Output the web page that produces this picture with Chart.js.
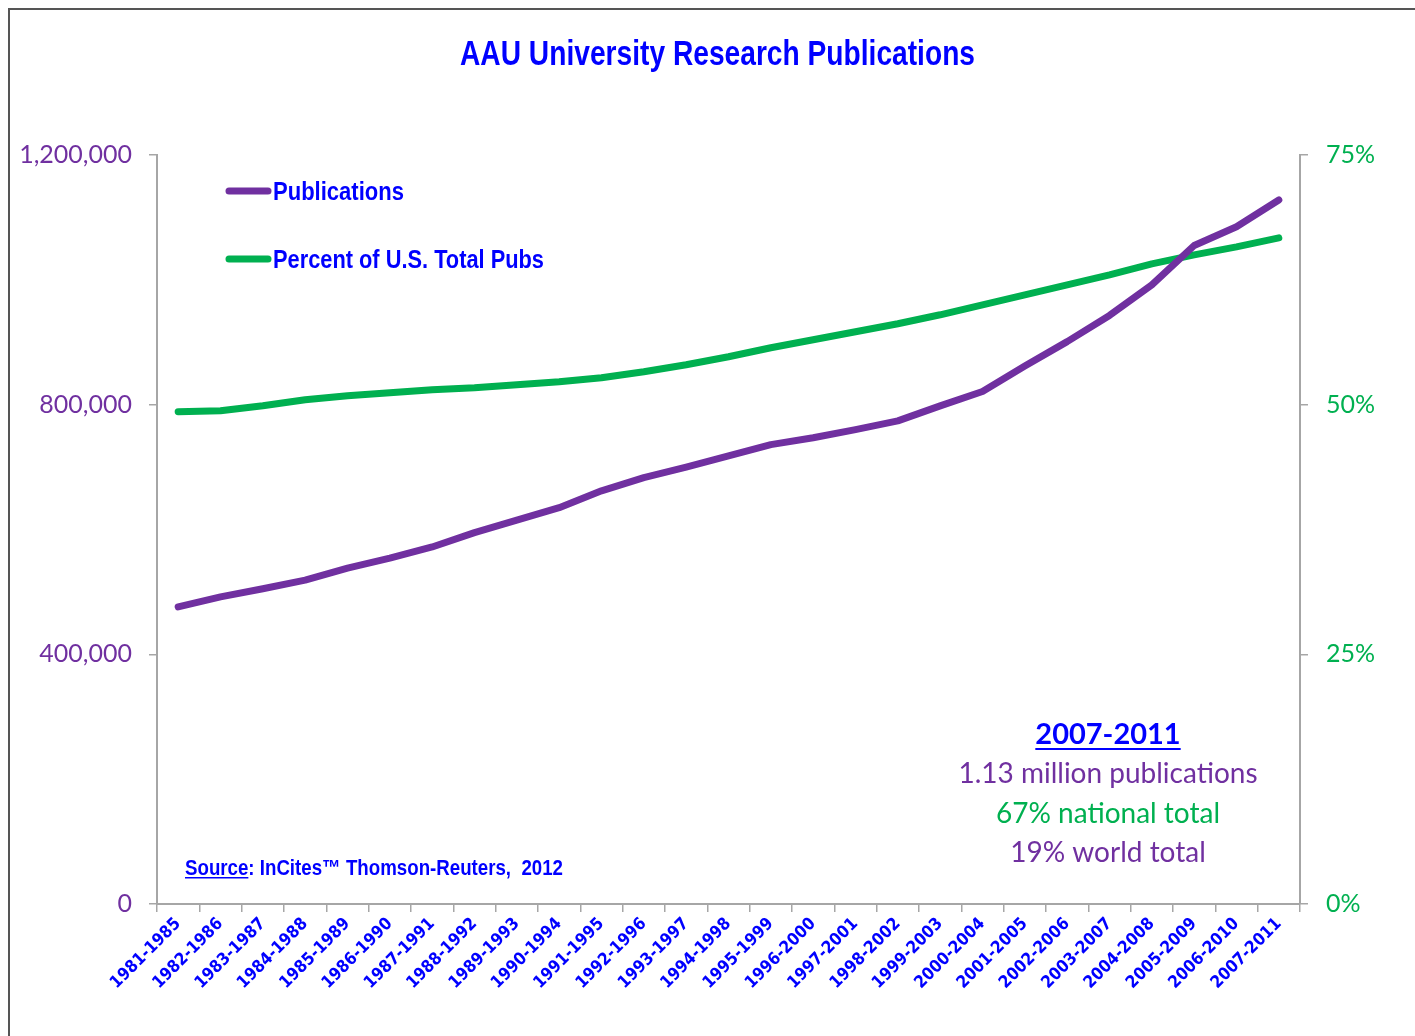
<!DOCTYPE html>
<html>
<head>
<meta charset="utf-8">
<title>AAU University Research Publications</title>
<script src="https://cdn.jsdelivr.net/npm/chart.js@4.4.1/dist/chart.umd.min.js"></script>
<style>
    html, body { margin: 0; padding: 0; background: #fff; }
    #wrap { width: 1415px; height: 1036px; position: relative; }
</style>
</head>
<body>
<div id="wrap"><canvas id="pubChart" width="1415" height="1036"></canvas></div>
<script>
// 5-year windows
const periods = [
    '1981-1985', '1982-1986', '1983-1987', '1984-1988', '1985-1989', '1986-1990',
    '1987-1991', '1988-1992', '1989-1993', '1990-1994', '1991-1995', '1992-1996',
    '1993-1997', '1994-1998', '1995-1999', '1996-2000', '1997-2001', '1998-2002',
    '1999-2003', '2000-2004', '2001-2005', '2002-2006', '2003-2007', '2004-2008',
    '2005-2009', '2006-2010', '2007-2011'
];

// AAU publications (count)
const publications = [
    476000, 492000, 505000, 519000, 538000, 554000, 572000, 595000, 615000,
    635000, 662000, 683000, 700000, 718000, 736000, 747000, 760000, 774000,
    798000, 821000, 862000, 901000, 943000, 992000, 1055000, 1085000, 1128000
];

// share of U.S. total publications (%)
const pctUSTotal = [
    49.3, 49.4, 49.9, 50.5, 50.9, 51.2, 51.5, 51.7, 52.0, 52.3, 52.7, 53.3,
    54.0, 54.8, 55.7, 56.5, 57.3, 58.1, 59.0, 60.0, 61.0, 62.0, 63.0, 64.1,
    65.0, 65.8, 66.7
];

const leftTicks = [0, 400000, 800000, 1200000];
const rightTicks = [0, 25, 50, 75];

const PURPLE = '#7030A0';
const GREEN = '#00B050';
const BLUE = '#0000FF';
const NARROW = '"DejaVu Sans Condensed", "Liberation Sans", sans-serif';
const BODY = 'Lato, "Open Sans", sans-serif';

// squeeze text horizontally to a given width (the original uses a condensed face)
function fillNarrow(c, text, x, y, font, width) {
    c.save();
    c.font = font;
    c.textAlign = 'left';
    const w = c.measureText(text).width;
    c.translate(x, y);
    c.scale(width / w, 1);
    c.fillText(text, 0, 0);
    c.restore();
}

// title, frame, legend and text boxes
const decorations = {
    id: 'decorations',
    beforeDraw(chart) {
        const c = chart.ctx;
        c.save();
        c.fillStyle = '#fff';
        c.fillRect(0, 0, chart.width, chart.height);
        c.strokeStyle = '#555';
        c.lineWidth = 2;
        c.beginPath();
        c.moveTo(9, 1036);
        c.lineTo(9, 9);
        c.lineTo(1415, 9);
        c.stroke();
        c.restore();
    },
    afterDraw(chart) {
        const c = chart.ctx;
        c.save();
        c.textBaseline = 'alphabetic';

        c.fillStyle = BLUE;
        fillNarrow(c, 'AAU University Research Publications', 460, 65, 'bold 35px "Liberation Sans", sans-serif', 515);

        // legend
        const items = [['Publications', PURPLE, 191, 131], ['Percent of U.S. Total Pubs', GREEN, 259, 271]];
        items.forEach(([label, col, y, w]) => {
            c.strokeStyle = col;
            c.lineWidth = 7;
            c.lineCap = 'round';
            c.beginPath();
            c.moveTo(229, y);
            c.lineTo(268, y);
            c.stroke();
            c.fillStyle = BLUE;
            fillNarrow(c, label, 273, y + 9, 'bold 26px "Liberation Sans", sans-serif', w);
        });

        // source
        c.fillStyle = BLUE;
        const srcFont = 'bold 22px "Liberation Sans", sans-serif';
        c.font = srcFont;
        const full = 'Source: InCites\u2122 Thomson-Reuters,  2012';
        const k = 378 / c.measureText(full).width;
        fillNarrow(c, full, 185, 875, srcFont, 378);
        const sw = c.measureText('Source').width * k;
        c.fillRect(185, 877, sw, 1.5);

        // 2007-2011 box
        c.textAlign = 'center';
        c.textBaseline = 'middle';
        c.font = 'bold 29px ' + BODY;
        c.fillText('2007-2011', 1108, 735);
        const hw = c.measureText('2007-2011').width;
        c.fillRect(1108 - hw / 2, 748, hw, 2);
        c.font = '28px ' + BODY;
        c.fillStyle = PURPLE;
        c.fillText('1.13 million publications', 1108, 774);
        c.fillStyle = GREEN;
        c.fillText('67% national total', 1108, 814);
        c.fillStyle = PURPLE;
        c.fillText('19% world total', 1108, 853);
        c.restore();
    }
};

const ctx = document.getElementById('pubChart');
new Chart(ctx, {
    type: 'line',
    data: {
        labels: periods,
        datasets: [
            {
                label: 'Publications',
                data: publications,
                yAxisID: 'y',
                borderColor: PURPLE,
                borderWidth: 7,
                pointRadius: 0,
                borderCapStyle: 'round',
                borderJoinStyle: 'round',
                tension: 0
            },
            {
                label: 'Percent of U.S. Total Pubs',
                data: pctUSTotal,
                yAxisID: 'y2',
                borderColor: GREEN,
                borderWidth: 7,
                pointRadius: 0,
                borderCapStyle: 'round',
                borderJoinStyle: 'round',
                tension: 0
            }
        ]
    },
    options: {
        responsive: false,
        animation: false,
        events: [],
        layout: { padding: { top: 155, left: 0, right: 0, bottom: 0 } },
        plugins: {
            legend: { display: false },
            title: { display: false },
            tooltip: { enabled: false }
        },
        scales: {
            x: {
                offset: true,
                afterFit: (s) => { s.height = 132; },
                grid: {
                    display: true,
                    drawOnChartArea: false,
                    offset: true,
                    tickLength: 8,
                    color: '#A6A6A6',
                    lineWidth: 1.5
                },
                border: { color: '#A6A6A6', width: 2 },
                ticks: {
                    color: BLUE,
                    font: { family: NARROW, size: 17, weight: 'bold' },
                    minRotation: 45,
                    maxRotation: 45,
                    autoSkip: false,
                    padding: 2
                }
            },
            y: {
                position: 'left',
                min: 0,
                max: 1200000,
                afterFit: (s) => { s.width = 157; },
                afterBuildTicks: (s) => { s.ticks = leftTicks.map(v => ({ value: v })); },
                grid: {
                    drawOnChartArea: false,
                    tickLength: 8,
                    color: '#A6A6A6',
                    lineWidth: 1.5
                },
                border: { color: '#A6A6A6', width: 2 },
                ticks: {
                    color: PURPLE,
                    font: { family: BODY, size: 25 },
                    padding: 17,
                    callback: (v) => v.toLocaleString('en-US')
                }
            },
            y2: {
                position: 'right',
                min: 0,
                max: 75,
                afterFit: (s) => { s.width = 115; },
                afterBuildTicks: (s) => { s.ticks = rightTicks.map(v => ({ value: v })); },
                grid: {
                    drawOnChartArea: false,
                    tickLength: 8,
                    color: '#A6A6A6',
                    lineWidth: 1.5
                },
                border: { color: '#A6A6A6', width: 2 },
                ticks: {
                    color: GREEN,
                    font: { family: BODY, size: 25 },
                    padding: 18,
                    callback: (v) => v + '%'
                }
            }
        }
    },
    plugins: [decorations]
});
</script>
</body>
</html>
